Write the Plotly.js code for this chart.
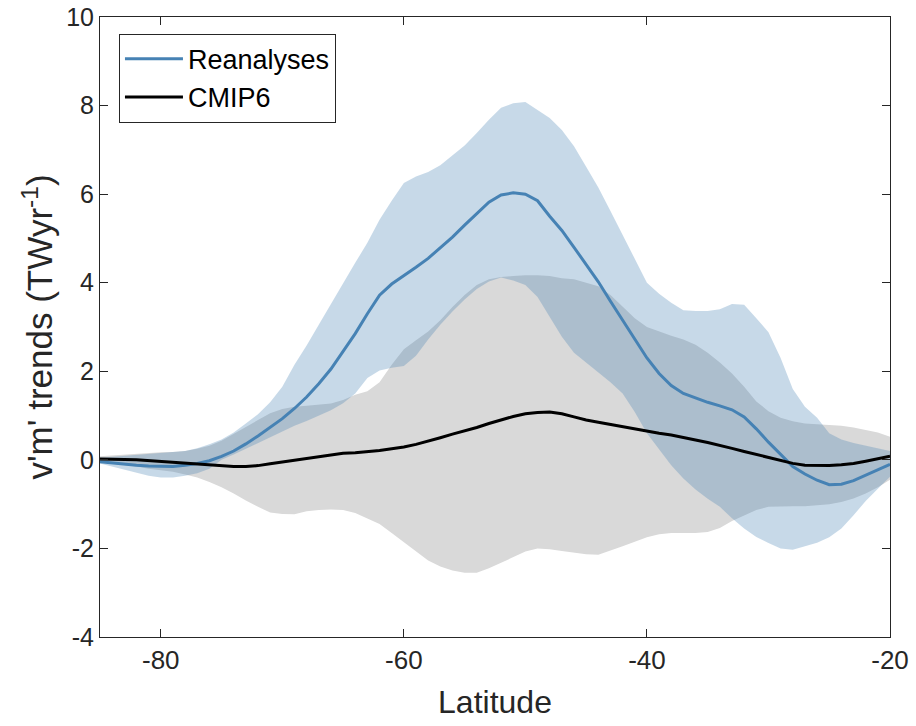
<!DOCTYPE html>
<html>
<head>
<meta charset="utf-8">
<script src="https://cdn.plot.ly/plotly-3.0.1.min.js"></script>
<style>html,body{margin:0;padding:0;background:#fff;}#chart{width:916px;height:726px;}</style>
</head>
<body>
<div id="chart"></div>
<script>
// Latitude grid (degrees)
const lat = [-85,-84,-83,-82,-81,-80,-79,-78,-77,-76,-75,-74,-73,-72,-71,-70,-69,-68,-67,-66,-65,-64,-63,-62,-61,-60,-59,-58,-57,-56,-55,-54,-53,-52,-51,-50,-49,-48,-47,-46,-45,-44,-43,-42,-41,-40,-39,-38,-37,-36,-35,-34,-33,-32,-31,-30,-29,-28,-27,-26,-25,-24,-23,-22,-21,-20];

// Reanalyses mean and range
const reanMean = [-0.04,-0.07,-0.1,-0.12,-0.14,-0.15,-0.15,-0.12,-0.08,-0.02,0.08,0.2,0.36,0.54,0.73,0.93,1.16,1.42,1.72,2.05,2.45,2.85,3.3,3.72,3.97,4.15,4.35,4.55,4.78,5.03,5.3,5.56,5.82,5.98,6.03,6.0,5.85,5.5,5.18,4.8,4.42,4.02,3.58,3.15,2.72,2.3,1.95,1.68,1.5,1.4,1.3,1.22,1.13,0.97,0.7,0.4,0.12,-0.15,-0.32,-0.46,-0.56,-0.55,-0.47,-0.35,-0.22,-0.1];
const reanUpper = [0.05,0.07,0.1,0.12,0.14,0.15,0.17,0.2,0.26,0.35,0.46,0.62,0.82,1.03,1.3,1.65,2.15,2.58,3.05,3.52,4.0,4.45,4.9,5.42,5.85,6.25,6.4,6.5,6.65,6.88,7.1,7.38,7.68,7.95,8.05,8.08,7.9,7.72,7.45,7.08,6.62,6.15,5.62,5.08,4.55,4.0,3.75,3.55,3.38,3.36,3.36,3.4,3.52,3.5,3.2,2.88,2.3,1.6,1.2,0.95,0.6,0.46,0.38,0.32,0.26,0.2];
const reanLower = [-0.08,-0.15,-0.22,-0.3,-0.36,-0.4,-0.4,-0.36,-0.3,-0.2,0.0,0.12,0.25,0.38,0.5,0.63,0.77,0.88,1.0,1.12,1.28,1.5,1.85,2.02,2.08,2.12,2.35,2.72,3.05,3.35,3.62,3.86,4.03,4.12,4.05,3.95,3.68,3.23,2.78,2.42,2.2,1.97,1.75,1.5,1.08,0.6,0.25,-0.12,-0.42,-0.67,-0.88,-1.06,-1.32,-1.55,-1.74,-1.88,-2.0,-2.03,-1.95,-1.87,-1.75,-1.55,-1.25,-0.93,-0.65,-0.38];

// CMIP6 mean and range
const cmipMean = [0.02,0.02,0.01,0.0,-0.02,-0.04,-0.06,-0.08,-0.1,-0.12,-0.14,-0.15,-0.15,-0.13,-0.09,-0.05,-0.01,0.03,0.08,0.12,0.15,0.16,0.18,0.21,0.25,0.29,0.35,0.42,0.5,0.58,0.65,0.73,0.82,0.9,0.98,1.04,1.07,1.08,1.04,0.97,0.9,0.85,0.8,0.75,0.69,0.64,0.6,0.56,0.51,0.45,0.39,0.33,0.26,0.19,0.12,0.05,-0.02,-0.08,-0.12,-0.13,-0.13,-0.11,-0.08,-0.03,0.03,0.08];
const cmipUpper = [0.08,0.1,0.12,0.14,0.16,0.17,0.18,0.2,0.25,0.32,0.43,0.58,0.74,0.9,1.05,1.15,1.2,1.22,1.24,1.27,1.35,1.47,1.55,1.75,2.15,2.5,2.7,2.9,3.15,3.45,3.72,3.95,4.08,4.13,4.15,4.17,4.17,4.15,4.1,4.08,4.0,3.92,3.72,3.45,3.2,3.0,2.9,2.8,2.72,2.6,2.42,2.2,1.95,1.65,1.32,1.1,0.95,0.87,0.82,0.8,0.79,0.77,0.73,0.68,0.62,0.52];
const cmipLower = [-0.05,-0.08,-0.12,-0.15,-0.2,-0.23,-0.27,-0.33,-0.4,-0.5,-0.62,-0.76,-0.92,-1.06,-1.19,-1.22,-1.23,-1.16,-1.13,-1.12,-1.13,-1.2,-1.33,-1.45,-1.65,-1.85,-2.07,-2.27,-2.41,-2.5,-2.55,-2.55,-2.45,-2.32,-2.2,-2.07,-2.0,-2.02,-2.06,-2.1,-2.13,-2.14,-2.05,-1.95,-1.85,-1.75,-1.68,-1.65,-1.65,-1.65,-1.63,-1.54,-1.38,-1.25,-1.13,-1.06,-1.05,-1.05,-1.05,-1.03,-1.0,-0.95,-0.87,-0.76,-0.62,-0.45];

const xTicks = [-80,-60,-40,-20];
const yTicks = [-4,-2,0,2,4,6,8,10];

const seriesNames = ['Reanalyses','CMIP6'];
const blue = 'rgb(70,130,180)';
const axisCol = '#262626';
const font = 'Liberation Sans, Arial, Helvetica, sans-serif';

const traces = [
  {x: lat, y: cmipLower, mode: 'lines', line: {width: 0, color: 'rgba(0,0,0,0)'}, showlegend: false, hoverinfo: 'skip'},
  {x: lat, y: cmipUpper, mode: 'lines', line: {width: 0, color: 'rgba(0,0,0,0)'}, fill: 'tonexty', fillcolor: '#d9d9d9', showlegend: false, hoverinfo: 'skip'},
  {x: lat, y: reanLower, mode: 'lines', line: {width: 0, color: 'rgba(0,0,0,0)'}, showlegend: false, hoverinfo: 'skip'},
  {x: lat, y: reanUpper, mode: 'lines', line: {width: 0, color: 'rgba(0,0,0,0)'}, fill: 'tonexty', fillcolor: 'rgba(70,130,180,0.3)', showlegend: false, hoverinfo: 'skip'},
  {x: lat, y: reanMean, mode: 'lines', name: seriesNames[0], line: {color: blue, width: 3}, legendgroup: 'a'},
  {x: lat, y: cmipMean, mode: 'lines', name: seriesNames[1], line: {color: '#000000', width: 3}, legendgroup: 'b'}
];

const layout = {
  width: 916, height: 726,
  margin: {l: 100, r: 26, t: 17, b: 89},
  paper_bgcolor: '#ffffff', plot_bgcolor: '#ffffff',
  font: {family: font, color: axisCol, size: 26},
  showlegend: true,
  legend: {
    x: 0.024, y: 0.973, xanchor: 'left', yanchor: 'top',
    bgcolor: '#ffffff', bordercolor: axisCol, borderwidth: 1,
    font: {family: font, size: 27, color: '#000000'},
    itemwidth: 58, traceorder: 'grouped', tracegroupgap: 0
  },
  xaxis: {
    range: [-85, -20], tickvals: xTicks, ticktext: xTicks.map(String),
    ticks: 'inside', ticklen: 8, tickcolor: axisCol, tickwidth: 1,
    showline: true, linecolor: axisCol, linewidth: 1, mirror: 'ticks',
    showgrid: false, zeroline: false,
    tickfont: {family: font, size: 26, color: axisCol},
    title: {text: 'Latitude', font: {family: font, size: 32, color: axisCol}, standoff: 16}
  },
  yaxis: {
    range: [-4, 10], tickvals: yTicks, ticktext: yTicks.map(String),
    ticks: 'inside', ticklen: 8, tickcolor: axisCol, tickwidth: 1,
    showline: true, linecolor: axisCol, linewidth: 1, mirror: 'ticks',
    showgrid: false, zeroline: false,
    tickfont: {family: font, size: 25, color: axisCol},
    title: {text: "v'm' trends (TWyr<sup>-1</sup>)", font: {family: font, size: 35, color: axisCol}, standoff: 2}
  }
};

Plotly.newPlot('chart', traces, layout, {staticPlot: true, displayModeBar: false});
</script>
</body>
</html>
